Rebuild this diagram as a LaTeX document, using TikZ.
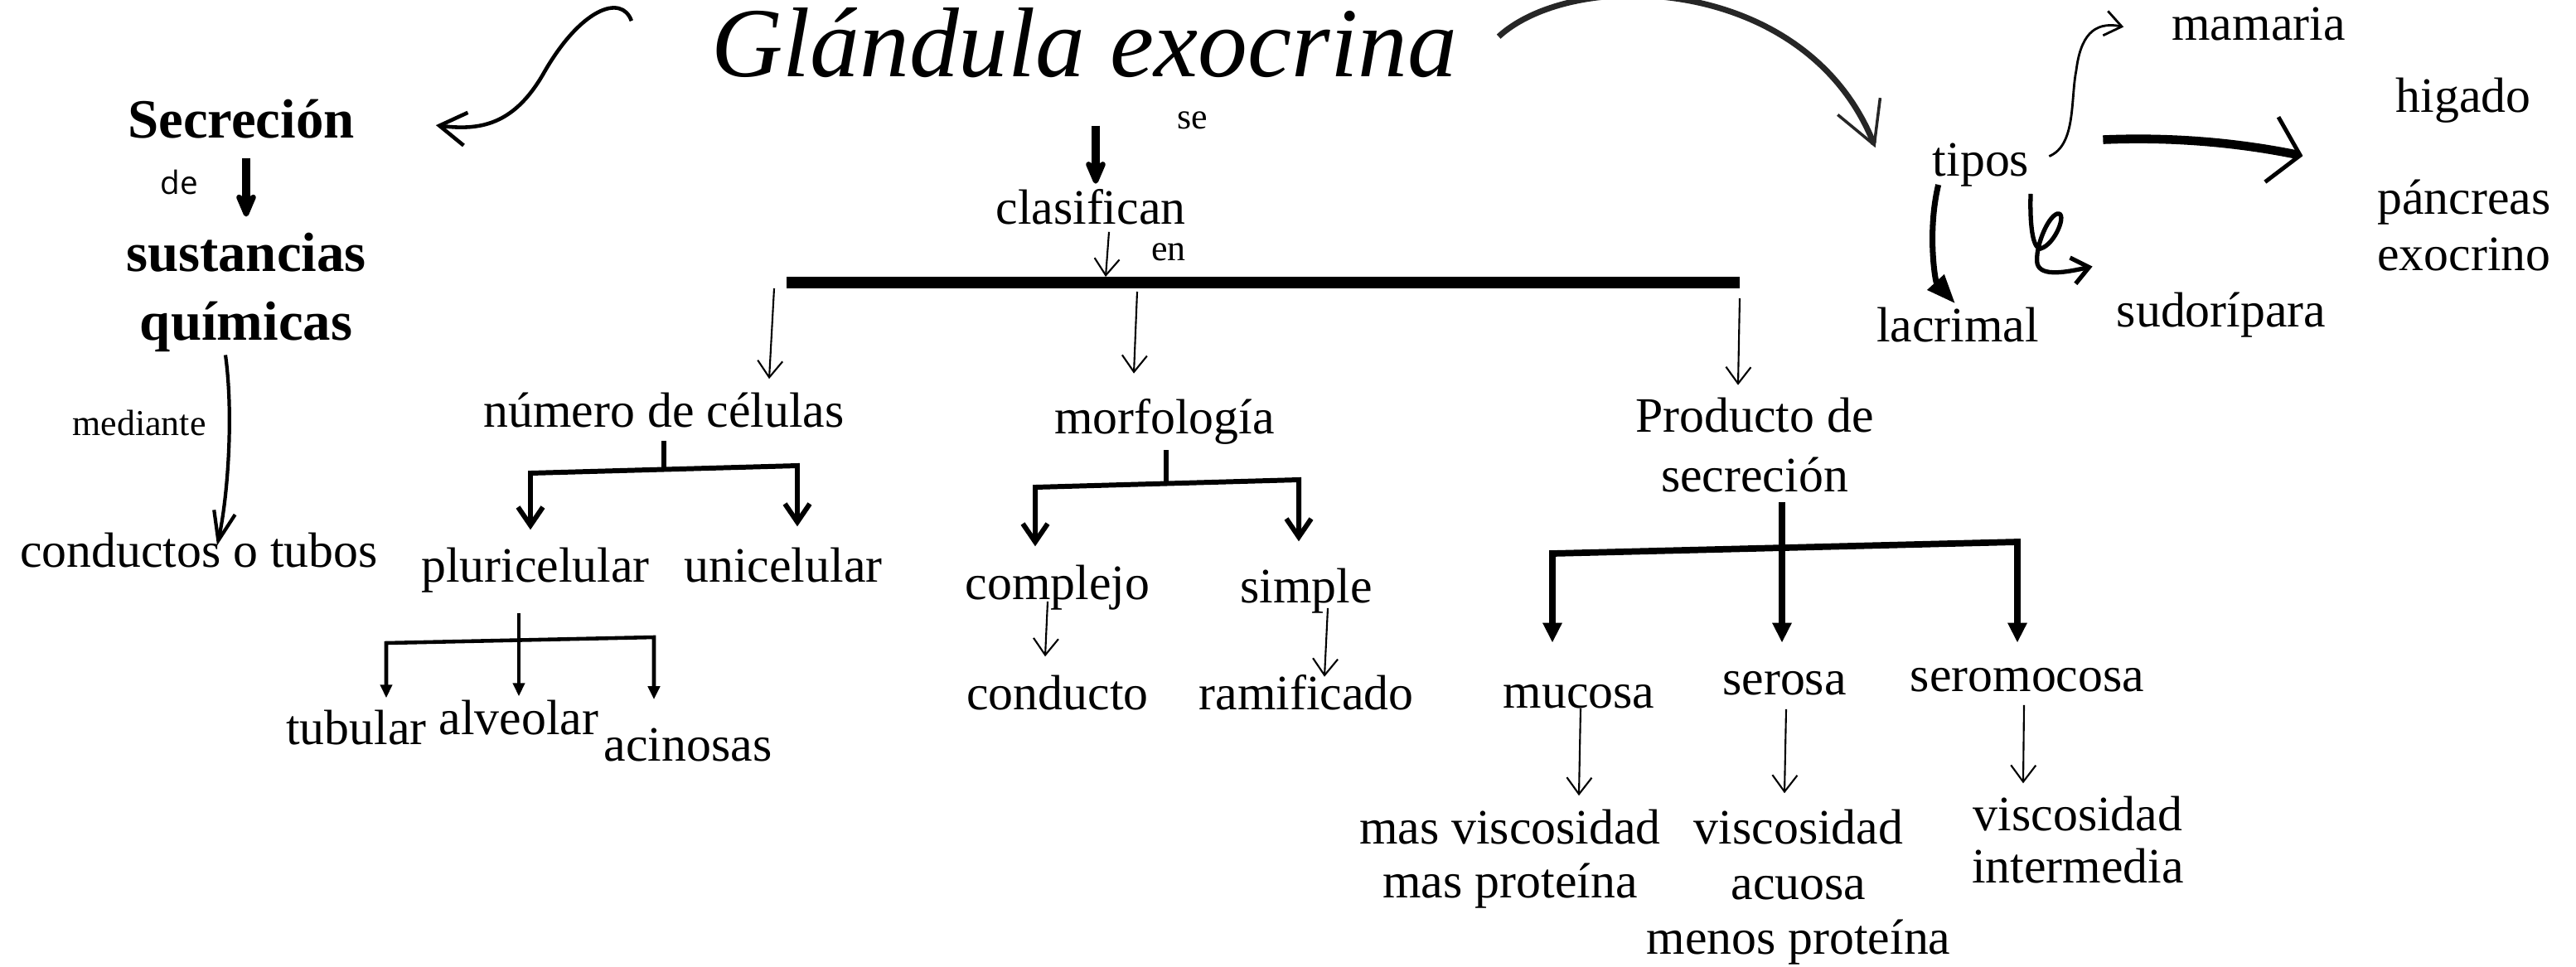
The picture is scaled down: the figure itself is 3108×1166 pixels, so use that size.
\documentclass[tikz,border=0pt]{standalone}
\usepackage{fontspec}
\setmainfont{Liberation Serif}
\newfontfamily\desans{Open Sans}
\usetikzlibrary{arrows.meta}

\begin{document}
\begin{tikzpicture}[x=0.01cm, y=-0.01cm,
    txt/.style={font=\fontsize{17}{20}\selectfont, inner sep=1pt, anchor=base},
    chico/.style={font=\fontsize{12.5}{15}\selectfont, inner sep=1pt, anchor=base},
    negrita/.style={font=\bfseries\fontsize{19}{22}\selectfont, inner sep=1pt, anchor=base},
    fina/.style={line width=0.6pt, -{Straight Barb[length=2mm,width=3mm]}},
    gruesa/.style={line width=2.6pt, -{Stealth[length=3.8mm,width=3.2mm,round]}},
    llave/.style={line width=1.7pt, {Straight Barb[length=2.2mm,width=3mm]}-{Straight Barb[length=2.2mm,width=3mm]}},
    llavef/.style={line width=1.3pt, {Triangle[length=1.6mm,width=1.4mm]}-{Triangle[length=1.6mm,width=1.4mm]}},
    llaveg/.style={line width=2.2pt, {Triangle[length=2.4mm,width=2.2mm]}-{Triangle[length=2.4mm,width=2.2mm]}}]
\useasboundingbox (0,0) rectangle (3108,1166);

\node[font=\itshape\fontsize{34}{40}\selectfont, inner sep=1pt, anchor=base] (titulo) at (1308,92) {Glándula exocrina};

% columna izquierda
\node[negrita] (secrecion) at (291,166) {Secreción};
\node[font=\desans\fontsize{11}{13}\selectfont, inner sep=1pt, anchor=base] (de) at (216,234) {de};
\node[negrita] (sustancias) at (297,327) {sustancias};
\node[negrita] (quimicas) at (297,410) {químicas};
\node[chico] (mediante) at (168,525) {mediante};
\node[txt] (conductos) at (240,684) {conductos o tubos};

\node[chico] (se) at (1439,155) {se};
\node[txt] (clasifican) at (1316,270) {clasifican};
\node[chico] (en) at (1410,314) {en};

\node[txt] (numero) at (801,515) {número de células};
\node[txt] (morfologia) at (1405,523) {morfología};
\node[txt, anchor=center, align=center, font=\fontsize{17}{20.5}\selectfont] (producto) at (2117,537) {Producto de\\secreción};

\node[txt] (pluri) at (646,702) {pluricelular};
\node[txt] (uni) at (945,702) {unicelular};
\node[txt] (tubular) at (430,898) {tubular};
\node[txt] (alveolar) at (626,886) {alveolar};
\node[txt] (acinosas) at (830,918) {acinosas};

\node[txt] (complejo) at (1276,723) {complejo};
\node[txt] (simple) at (1576,727) {simple};
\node[txt] (conducto) at (1276,856) {conducto};
\node[txt] (ramificado) at (1576,856) {ramificado};

\node[txt] (mucosa) at (1905,854) {mucosa};
\node[txt] (serosa) at (2153,838) {serosa};
\node[txt] (seromocosa) at (2446,834) {seromocosa};
\node[txt, anchor=center, align=center, font=\fontsize{17}{18.5}\selectfont] (mucosaD) at (1822,1037) {mas viscosidad\\mas proteína};
\node[txt, anchor=center, align=center, font=\fontsize{17}{18.9}\selectfont] (serosaD) at (2170,1071) {viscosidad\\acuosa\\menos proteína};
\node[txt, anchor=center, align=center, font=\fontsize{17}{17.9}\selectfont] (seromoD) at (2507,1014) {viscosidad\\intermedia};

% tipos
\node[txt] (tipos) at (2390,212) {tipos};
\node[txt] (mamaria) at (2725,48) {mamaria};
\node[txt] (higado) at (2972,135) {higado};
\node[txt, anchor=center, align=center, font=\fontsize{17}{19.6}\selectfont] (pancreas) at (2973,272) {páncreas\\exocrino};
\node[txt] (lacrimal) at (2362,412) {lacrimal};
\node[txt] (sudoripara) at (2680,394) {sudorípara};

\coordinate (barL) at (949,341);
\coordinate (barR) at (2099,341);
\coordinate (bM) at (1334,334);
\coordinate (b1) at (934,348);
\coordinate (b2) at (1372,352);
\coordinate (b3) at (2099,360);
\coordinate (nJ) at (801,564);
\coordinate (nL) at (640,571);
\coordinate (nR) at (962,562);
\coordinate (pL) at (466,776);
\coordinate (pR) at (789,769);
\coordinate (mJ) at (1407,582);
\coordinate (mL) at (1249,588);
\coordinate (mR) at (1567,579);
\coordinate (prL) at (1873,668);
\coordinate (prR) at (2434,654);

% flechas de la izquierda
\draw[line width=1.3pt, -{Straight Barb[length=3.2mm,width=4mm]}]
  ([shift={(-92,-26)}]titulo.west) .. controls (750,-8) and (700,10) .. (655,90)
  .. controls (620,150) and (580,158) .. ([shift={(94,8)}]secrecion.east);
\draw[gruesa] ([shift={(6,20)}]secrecion.south) -- ([shift={(0,-15)}]sustancias.north);
\draw[line width=1.2pt, -{Straight Barb[length=3.5mm,width=2.6mm]}]
  ([shift={(-25,0)}]quimicas.south) .. controls (282,500) and (275,600) .. ([shift={(22,20)}]conductos.north);

% clasificacion
\draw[gruesa] ([shift={(14,54)}]titulo.south) -- ([shift={(6,-2)}]clasifican.north);
\draw[fina] ([shift={(22,5)}]clasifican.south) -- (bM);
\draw[line width=3.8pt] (barL) -- (barR);
\draw[fina] (b1) -- ([shift={(127,-12)}]numero.north);
\draw[fina] (b2) -- ([shift={(-37,-26)}]morfologia.north);
\draw[fina] (b3) -- ([shift={(-20,-11)}]producto.north);

\draw[line width=1.7pt] ([shift={(0,12)}]numero.south) -- (nJ);
\draw[llave] ([shift={(0,-17)}]nL |- pluri.north) -- (nL) -- (nR) -- ([shift={(0,-21)}]nR |- uni.north);

\draw[line width=1.3pt, -{Triangle[length=1.6mm,width=1.4mm]}] ([shift={(-20,21)}]pluri.south) -- (alveolar.north);
\draw[llavef] ([shift={(0,-10)}]pL |- tubular.north) -- (pL) -- (pR) -- ([shift={(0,-30)}]pR |- acinosas.north);

\draw[line width=1.7pt] ([shift={(2,3)}]morfologia.south) -- (mJ);
\draw[llave] ([shift={(0,-18)}]mL |- complejo.north) -- (mL) -- (mR) -- ([shift={(0,-28)}]mR |- simple.north);
\draw[fina] ([shift={(-12,-14)}]complejo.south) -- ([shift={(-15,-18)}]conducto.north);
\draw[fina] ([shift={(26,-10)}]simple.south) -- ([shift={(22,7)}]ramificado.north);

\draw[line width=2.2pt, -{Triangle[length=2.4mm,width=2.2mm]}] ([shift={(33,8)}]producto.south) -- ([shift={(-3,-30)}]serosa.north);
\draw[llaveg] ([shift={(0,-46)}]prL |- mucosa.north) -- (prL) -- (prR) -- ([shift={(0,-26)}]prR |- seromocosa.north);
\draw[fina] ([shift={(2,-4)}]mucosa.south) -- ([shift={(83,-13)}]mucosaD.north);
\draw[fina] ([shift={(2,13)}]serosa.south) -- ([shift={(-17,-16)}]serosaD.north);
\draw[fina] ([shift={(-4,12)}]seromocosa.south) -- ([shift={(-66,-12)}]seromoD.north);

% tipos de glandulas
\draw[line width=2pt, draw=black!85, -{Straight Barb[length=5mm,width=5.5mm,line width=1pt]}]
  ([shift={(46,-7)}]titulo.east) .. controls (1900,-40) and (2180,-30) .. ([shift={(-65,10)}]tipos.north west);
\draw[line width=0.8pt, -{Straight Barb[length=2mm,width=3mm]}]
  ([shift={(20,-10)}]tipos.east) .. controls (2505,175) and (2498,120) .. (2505,85)
  .. controls (2510,45) and (2525,25) .. ([shift={(-54,4)}]mamaria.west);
\draw[line width=3pt, -{Straight Barb[length=3.5mm,width=8mm,line width=1.4pt]}]
  ([shift={(85,-30)}]tipos.east) .. controls (2620,165) and (2700,172) .. ([shift={(-108,36)}]higado.south west);
\draw[line width=2pt, -{Triangle[length=3.5mm,width=2.6mm]}]
  ([shift={(11,-6)}]tipos.south west) .. controls (2325,280) and (2335,340) .. ([shift={(-3,0)}]lacrimal.north);
\draw[line width=1.5pt, -{Straight Barb[length=2mm,width=3.2mm]}]
  ([shift={(60,5)}]tipos.south) .. controls (2449,270) and (2452,300) .. (2462,300)
  .. controls (2480,295) and (2495,255) .. (2482,258)
  .. controls (2470,262) and (2455,300) .. (2458,318)
  .. controls (2462,335) and (2495,328) .. ([shift={(-25,-58)}]sudoripara.west);
\end{tikzpicture}
\end{document}
